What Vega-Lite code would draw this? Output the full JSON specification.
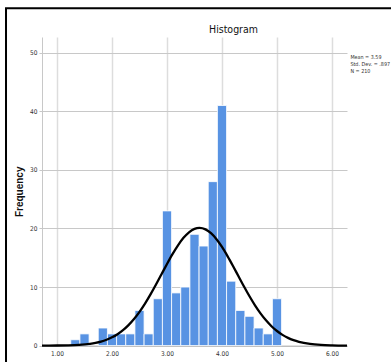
{
  "$schema": "https://vega.github.io/schema/vega-lite/v6.json",
  "width": 305,
  "height": 308.6,
  "autosize": {"type": "none"},
  "padding": {"left": 42, "top": 37, "right": 44, "bottom": 16},
  "background": "white",
  "title": {
    "text": "Histogram",
    "anchor": "middle",
    "frame": "group",
    "dx": 39,
    "offset": -28,
    "font": "Liberation Sans Narrow, DejaVu Sans Condensed, Liberation Sans, sans-serif",
    "fontSize": 10.5,
    "fontWeight": "normal",
    "color": "#111111"
  },
  "datasets": {
    "bins": [
      {"start": 1.25, "end": 1.4167, "count": 1},
      {"start": 1.4167, "end": 1.5833, "count": 2},
      {"start": 1.75, "end": 1.9167, "count": 3},
      {"start": 1.9167, "end": 2.0833, "count": 2},
      {"start": 2.0833, "end": 2.25, "count": 2},
      {"start": 2.25, "end": 2.4167, "count": 2},
      {"start": 2.4167, "end": 2.5833, "count": 6},
      {"start": 2.5833, "end": 2.75, "count": 2},
      {"start": 2.75, "end": 2.9167, "count": 8},
      {"start": 2.9167, "end": 3.0833, "count": 23},
      {"start": 3.0833, "end": 3.25, "count": 9},
      {"start": 3.25, "end": 3.4167, "count": 10},
      {"start": 3.4167, "end": 3.5833, "count": 19},
      {"start": 3.5833, "end": 3.75, "count": 17},
      {"start": 3.75, "end": 3.9167, "count": 28},
      {"start": 3.9167, "end": 4.0833, "count": 41},
      {"start": 4.0833, "end": 4.25, "count": 11},
      {"start": 4.25, "end": 4.4167, "count": 6},
      {"start": 4.4167, "end": 4.5833, "count": 5},
      {"start": 4.5833, "end": 4.75, "count": 3},
      {"start": 4.75, "end": 4.9167, "count": 2},
      {"start": 4.9167, "end": 5.0833, "count": 8}
    ],
    "curve": [
      {"x": 0.727, "y": 0.004},
      {"x": 1.0, "y": 0.017},
      {"x": 1.2, "y": 0.05},
      {"x": 1.4, "y": 0.13},
      {"x": 1.6, "y": 0.31},
      {"x": 1.7, "y": 0.47},
      {"x": 1.8, "y": 0.69},
      {"x": 1.9, "y": 1.0},
      {"x": 2.0, "y": 1.41},
      {"x": 2.1, "y": 1.95},
      {"x": 2.2, "y": 2.64},
      {"x": 2.3, "y": 3.5},
      {"x": 2.4, "y": 4.54},
      {"x": 2.5, "y": 5.77},
      {"x": 2.6, "y": 7.18},
      {"x": 2.7, "y": 8.75},
      {"x": 2.8, "y": 10.43},
      {"x": 2.9, "y": 12.19},
      {"x": 3.0, "y": 13.94},
      {"x": 3.1, "y": 15.62},
      {"x": 3.2, "y": 17.13},
      {"x": 3.3, "y": 18.4},
      {"x": 3.4, "y": 19.35},
      {"x": 3.5, "y": 19.93},
      {"x": 3.59, "y": 20.1},
      {"x": 3.7, "y": 19.85},
      {"x": 3.8, "y": 19.19},
      {"x": 3.9, "y": 18.17},
      {"x": 4.0, "y": 16.85},
      {"x": 4.1, "y": 15.29},
      {"x": 4.2, "y": 13.6},
      {"x": 4.3, "y": 11.84},
      {"x": 4.4, "y": 10.09},
      {"x": 4.5, "y": 8.42},
      {"x": 4.6, "y": 6.88},
      {"x": 4.7, "y": 5.51},
      {"x": 4.8, "y": 4.32},
      {"x": 4.9, "y": 3.31},
      {"x": 5.0, "y": 2.49},
      {"x": 5.1, "y": 1.83},
      {"x": 5.2, "y": 1.32},
      {"x": 5.3, "y": 0.93},
      {"x": 5.4, "y": 0.64},
      {"x": 5.6, "y": 0.29},
      {"x": 5.8, "y": 0.12},
      {"x": 6.0, "y": 0.045},
      {"x": 6.273, "y": 0.005}
    ],
    "stats": [
      {"stat": "Mean = 3.59"},
      {"stat": "Std. Dev. = .897"},
      {"stat": "N = 210"}
    ],
    "frame": [
      {"part": "border"}
    ]
  },
  "layer": [
    {
      "data": {"name": "bins"},
      "mark": {"type": "bar", "fill": "#5893e3", "stroke": "#ffffff", "strokeWidth": 0.8},
      "encoding": {
        "x": {
          "field": "start", "type": "quantitative",
          "scale": {"domain": [0.727, 6.273], "nice": false, "zero": false},
          "axis": {
            "values": [1, 2, 3, 4, 5, 6], "format": ".2f", "title": null,
            "grid": true, "gridColor": "#dddddd", "gridWidth": 1.5,
            "ticks": false, "labelPadding": 5,
            "domainColor": "#b5b5b5", "domainWidth": 1,
            "labelFont": "Liberation Sans Narrow, DejaVu Sans Condensed, sans-serif",
            "labelFontSize": 6.5, "labelColor": "#333333"
          }
        },
        "x2": {"field": "end"},
        "y": {
          "field": "count", "type": "quantitative",
          "scale": {"domain": [0, 52.7], "nice": false, "zero": true},
          "axis": {
            "values": [0, 10, 20, 30, 40, 50], "title": "Frequency",
            "grid": true, "gridColor": "#c8c8c8", "gridWidth": 1,
            "ticks": true, "tickSize": 3, "tickColor": "#c8c8c8", "labelPadding": 2,
            "domainColor": "#c8c8c8", "domainWidth": 1,
            "labelFont": "Liberation Sans Narrow, DejaVu Sans Condensed, sans-serif",
            "labelFontSize": 6.5, "labelColor": "#333333",
            "titleFont": "Liberation Sans, Arial, sans-serif",
            "titleFontSize": 10, "titleFontWeight": "bold", "titleColor": "#111111",
            "titlePadding": 5
          }
        },
        "y2": {"datum": 0}
      }
    },
    {
      "data": {"name": "curve"},
      "mark": {"type": "line", "color": "#000000", "strokeWidth": 2.3, "interpolate": "monotone"},
      "encoding": {
        "x": {
          "field": "x", "type": "quantitative",
          "scale": {"domain": [0.727, 6.273], "nice": false, "zero": false},
          "axis": {
            "values": [1, 2, 3, 4, 5, 6], "format": ".2f", "title": null,
            "grid": true, "gridColor": "#dddddd", "gridWidth": 1.5,
            "ticks": false, "labelPadding": 5,
            "domainColor": "#b5b5b5", "domainWidth": 1,
            "labelFont": "Liberation Sans Narrow, DejaVu Sans Condensed, sans-serif",
            "labelFontSize": 6.5, "labelColor": "#333333"
          }
        },
        "y": {
          "field": "y", "type": "quantitative",
          "scale": {"domain": [0, 52.7], "nice": false, "zero": true},
          "axis": {
            "values": [0, 10, 20, 30, 40, 50], "title": "Frequency",
            "grid": true, "gridColor": "#c8c8c8", "gridWidth": 1,
            "ticks": true, "tickSize": 3, "tickColor": "#c8c8c8", "labelPadding": 2,
            "domainColor": "#c8c8c8", "domainWidth": 1,
            "labelFont": "Liberation Sans Narrow, DejaVu Sans Condensed, sans-serif",
            "labelFontSize": 6.5, "labelColor": "#333333",
            "titleFont": "Liberation Sans, Arial, sans-serif",
            "titleFontSize": 10, "titleFontWeight": "bold", "titleColor": "#111111",
            "titlePadding": 5
          }
        }
      }
    },
    {
      "data": {"name": "frame"},
      "mark": {"type": "rect", "fill": null, "stroke": "#000000", "strokeWidth": 2},
      "encoding": {
        "x": {
          "datum": 0.0725, "type": "quantitative",
          "scale": {"domain": [0.727, 6.273], "nice": false, "zero": false},
          "axis": {
            "values": [1, 2, 3, 4, 5, 6], "format": ".2f", "title": null,
            "grid": true, "gridColor": "#dddddd", "gridWidth": 1.5,
            "ticks": false, "labelPadding": 5,
            "domainColor": "#b5b5b5", "domainWidth": 1,
            "labelFont": "Liberation Sans Narrow, DejaVu Sans Condensed, sans-serif",
            "labelFontSize": 6.5, "labelColor": "#333333"
          }
        },
        "x2": {"datum": 8},
        "y": {
          "datum": 57.6, "type": "quantitative",
          "scale": {"domain": [0, 52.7], "nice": false, "zero": true},
          "axis": {
            "values": [0, 10, 20, 30, 40, 50], "title": "Frequency",
            "grid": true, "gridColor": "#c8c8c8", "gridWidth": 1,
            "ticks": true, "tickSize": 3, "tickColor": "#c8c8c8", "labelPadding": 2,
            "domainColor": "#c8c8c8", "domainWidth": 1,
            "labelFont": "Liberation Sans Narrow, DejaVu Sans Condensed, sans-serif",
            "labelFontSize": 6.5, "labelColor": "#333333",
            "titleFont": "Liberation Sans, Arial, sans-serif",
            "titleFontSize": 10, "titleFontWeight": "bold", "titleColor": "#111111",
            "titlePadding": 5
          }
        },
        "y2": {"datum": -5}
      }
    },
    {
      "data": {"name": "stats"},
      "mark": {"type": "point", "opacity": 0},
      "encoding": {
        "color": {
          "field": "stat", "type": "nominal",
          "scale": {"domain": ["Mean = 3.59", "Std. Dev. = .897", "N = 210"], "range": ["#ffffff", "#ffffff", "#ffffff"]},
          "legend": {
            "title": null, "orient": "none", "legendX": 303, "legendY": 17,
            "padding": 0, "symbolSize": 0, "symbolStrokeWidth": 0, "symbolOpacity": 0,
            "labelOffset": 0, "rowPadding": -0.3,
            "labelFont": "Liberation Sans Narrow, DejaVu Sans Condensed, sans-serif",
            "labelFontSize": 5.4, "labelColor": "#333333", "labelLimit": 200
          }
        }
      }
    }
  ],
  "config": {
    "view": {"stroke": null}
  }
}
